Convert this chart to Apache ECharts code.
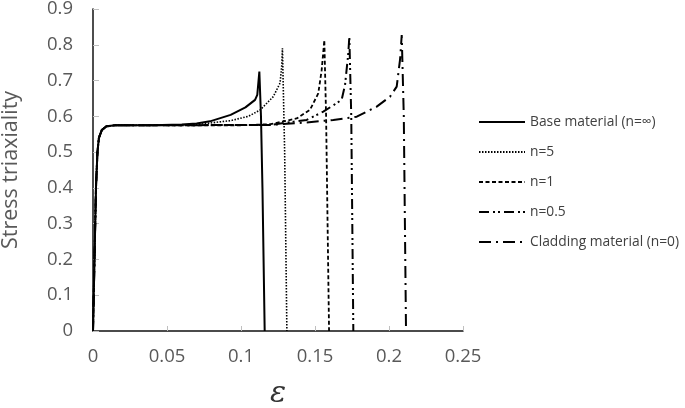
<!DOCTYPE html>
<html>
<head>
<meta charset="utf-8">
<script src="https://cdn.jsdelivr.net/npm/echarts@6/dist/echarts.min.js"></script>
<style>
  html, body { margin: 0; padding: 0; background: #fff; }
  #chart { width: 685px; height: 408px; }
</style>
</head>
<body>
<div id="chart"></div>
<script>
// shared elastic rise (strain, triaxiality)
const rise = [[0, 0], [0.001, 0.2], [0.002, 0.4], [0.003, 0.5], [0.004, 0.54], [0.006, 0.562], [0.009, 0.572], [0.015, 0.575]];

const baseMaterial = [[0.04, 0.575], [0.06, 0.577], [0.07, 0.58], [0.079, 0.586], [0.093, 0.604], [0.103, 0.625], [0.1095, 0.646], [0.111, 0.66], [0.1124, 0.725], [0.1135, 0.6], [0.1145, 0.4], [0.116, 0]];
const n5 = [[0.04, 0.575], [0.07, 0.577], [0.093, 0.588], [0.105, 0.6], [0.113, 0.618], [0.1218, 0.655], [0.1264, 0.693], [0.1275, 0.74], [0.128, 0.79], [0.1295, 0.5], [0.131, 0]];
const n1 = [[0.04, 0.575], [0.1, 0.575], [0.12, 0.578], [0.1376, 0.594], [0.1466, 0.618], [0.1522, 0.664], [0.1545, 0.729], [0.1563, 0.813], [0.1575, 0.6], [0.1595, 0]];
const n05 = [[0.04, 0.575], [0.12, 0.576], [0.1444, 0.59], [0.1556, 0.613], [0.168, 0.646], [0.1703, 0.688], [0.1725, 0.776], [0.1732, 0.823], [0.1745, 0.6], [0.1759, 0]];
const cladding = [[0.04, 0.575], [0.12, 0.576], [0.1444, 0.583], [0.1624, 0.59], [0.1782, 0.599], [0.1917, 0.627], [0.2007, 0.655], [0.2052, 0.683], [0.2075, 0.76], [0.2086, 0.827], [0.21, 0.6], [0.2115, 0]];

const names = ['Base material (n=\u221e)', 'n=5', 'n=1', 'n=0.5', 'Cladding material (n=0)'];
const curves = [baseMaterial, n5, n1, n05, cladding];
const dashes = ['solid', [1.5, 1.5], [4, 2.5], [10, 4, 2, 3, 2, 4], [12, 5, 2, 5]];
const widths = [2, 1.6, 1.8, 2, 2];

const chart = echarts.init(document.getElementById('chart'));
chart.setOption({
  animation: false,
  grid: { left: 93, right: 222, top: 9, bottom: 77, outerBoundsMode: 'none' },
  legend: {
    orient: 'vertical',
    left: 473,
    top: 110,
    padding: 5,
    itemWidth: 46,
    itemHeight: 14,
    itemGap: 16,
    itemStyle: { opacity: 0 },
    textStyle: { fontFamily: 'Open Sans', fontSize: 13.8, color: '#404040' },
    data: names
  },
  xAxis: [{
    type: 'value', min: 0, max: 0.25, interval: 0.05,
    name: '\u03b5', nameLocation: 'middle', nameGap: 48,
    nameTextStyle: { fontFamily: 'DejaVu Serif', fontStyle: 'italic', fontSize: 30, color: '#333' },
    axisLine: { lineStyle: { color: '#bfbfbf', width: 1.5 } },
    axisTick: { inside: true, length: 5, lineStyle: { color: '#bfbfbf' } },
    axisLabel: { fontFamily: 'Open Sans', fontSize: 18.5, color: '#595959', margin: 16 },
    splitLine: { show: false }
  }, {
    type: 'value', min: 0, max: 0.25, position: 'top',
    axisLine: { lineStyle: { color: '#222', width: 1.5 } },
    axisTick: { show: false }, axisLabel: { show: false }, splitLine: { show: false }
  }],
  yAxis: [{
    type: 'value', min: 0, max: 0.9, interval: 0.1,
    name: 'Stress triaxiality', nameLocation: 'middle', nameGap: 71,
    nameTextStyle: { fontFamily: 'Open Sans', fontSize: 21.5, color: '#595959' },
    axisLine: { show: true, lineStyle: { color: '#bfbfbf', width: 1.5 } },
    axisTick: { show: true, inside: true, length: 6, lineStyle: { color: '#bfbfbf' } },
    axisLabel: { fontFamily: 'Open Sans', fontSize: 18.5, color: '#595959', margin: 20 },
    splitLine: { show: false }
  }, {
    type: 'value', min: 0, max: 0.9, position: 'right',
    axisLine: { show: true, lineStyle: { color: '#222', width: 1.5 } },
    axisTick: { show: false }, axisLabel: { show: false }, splitLine: { show: false }
  }],
  series: names.map((nm, i) => ({
    name: nm,
    type: 'line',
    showSymbol: false,
    symbol: 'none',
    data: rise.concat(curves[i]),
    lineStyle: { color: '#000', width: widths[i], type: dashes[i] },
    itemStyle: { color: '#000' },
    z: 5 - i
  }))
});
</script>
</body>
</html>
